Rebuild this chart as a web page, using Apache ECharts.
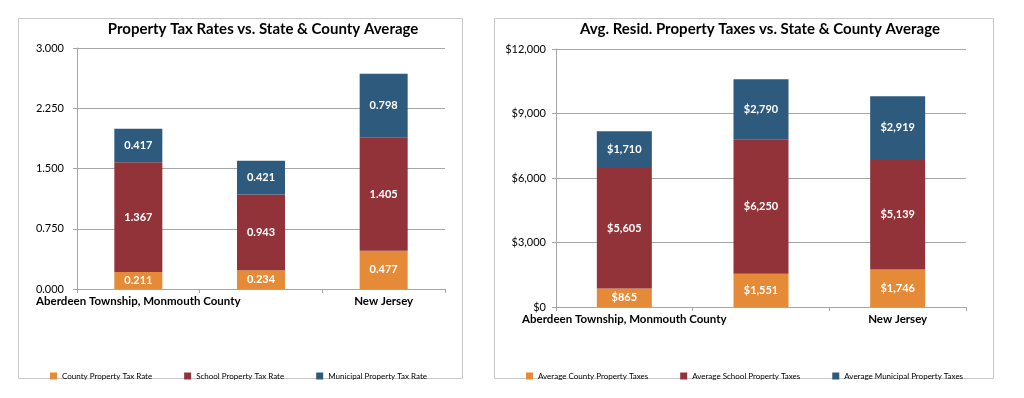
<!DOCTYPE html>
<html><head><meta charset="utf-8">
<script src="https://cdn.jsdelivr.net/npm/echarts@6/dist/echarts.min.js"></script>
<style>html,body{margin:0;padding:0;background:#fff}#c{width:1024px;height:398px}</style>
</head><body><div id="c"></div>
<script>
const categories = ["Aberdeen Township, Monmouth County", "Monmouth County", "New Jersey"];
const rateCounty = [0.211, 0.234, 0.477];
const rateSchool = [1.367, 0.943, 1.405];
const rateMunicipal = [0.417, 0.421, 0.798];
const taxCounty = [865, 1551, 1746];
const taxSchool = [5605, 6250, 5139];
const taxMunicipal = [1710, 2790, 2919];
const rateNames = ["County Property Tax Rate", "School Property Tax Rate", "Municipal Property Tax Rate"];
const taxNames = ["Average County Property Taxes", "Average School Property Taxes", "Average Municipal Property Taxes"];
const titles = ["Property Tax Rates vs. State & County Average", "Avg. Resid. Property Taxes vs. State & County Average"];

const colors = ["#E58A37", "#913339", "#2D5A7D"];
const FONT = "Lato, 'Open Sans', sans-serif";
const money = v => "$" + Math.round(v).toLocaleString("en-US");
const rate = v => Number(v).toFixed(3);

const chart = echarts.init(document.getElementById("c"), null, {renderer: "canvas"});
function mkSeries(names, arrays, axisIdx, fmt, bw) {
  return names.map((n, i) => ({
    name: n, type: "bar", stack: "s" + axisIdx, xAxisIndex: axisIdx, yAxisIndex: axisIdx,
    barWidth: bw, data: arrays[i], itemStyle: {color: colors[i]},
    label: {show: true, position: "inside", color: "#fff", fontWeight: "bold", fontSize: 11, fontFamily: FONT,
      formatter: p => fmt(p.value)}
  }));
}
const axisGray = "#A6A6A6";
function xAx(idx) {
  return {type: "category", gridIndex: idx, data: categories,
    axisLine: {lineStyle: {color: axisGray}}, axisTick: {show: true, length: 4, alignWithLabel: false, lineStyle: {color: axisGray}},
    axisLabel: {interval: 0, formatter: (v, i) => i === 1 ? "" : v, color: "#000", fontWeight: "bold", fontSize: 11.5, fontFamily: FONT, margin: 6}};
}
function yAx(idx, max, interval, fmt) {
  return {type: "value", gridIndex: idx, min: 0, max: max, interval: interval,
    axisLine: {show: true, lineStyle: {color: axisGray}}, axisTick: {show: true, length: 4, lineStyle: {color: axisGray}},
    splitLine: {lineStyle: {color: axisGray}},
    axisLabel: {formatter: fmt, color: "#000", fontSize: 11, fontFamily: FONT, margin: idx === 0 ? 13 : 10}};
}
function legend(names, left) {
  return {data: names, left: left, top: 367, icon: "rect", itemWidth: 7, itemHeight: 7, itemGap: 32,
    textStyle: {fontSize: 8, color: "#000", fontFamily: FONT}, selectedMode: false};
}
chart.setOption({
  animation: false,
  title: [
    {text: titles[0], left: 258, top: 17, textAlign: "center", textStyle: {fontSize: 15, fontWeight: "bold", color: "#000", fontFamily: FONT}},
    {text: titles[1], left: 755, top: 17, textAlign: "center", textStyle: {fontSize: 15, fontWeight: "bold", color: "#000", fontFamily: FONT}}
  ],
  graphic: [
    {type: "rect", shape: {x: 18.5, y: 18.5, width: 444, height: 360}, style: {fill: "none", stroke: "#C8C8C8", lineWidth: 1}},
    {type: "rect", shape: {x: 494.5, y: 18.5, width: 499, height: 360}, style: {fill: "none", stroke: "#C8C8C8", lineWidth: 1}}
  ],
  legend: [legend(rateNames, 45), legend(taxNames, 521)],
  grid: [
    {left: 77, right: 579, top: 48, bottom: 109},
    {left: 556, right: 58, top: 49, bottom: 91}
  ],
  xAxis: [xAx(0), xAx(1)],
  yAxis: [yAx(0, 3, 0.75, v => rate(v)), yAx(1, 12000, 3000, v => money(v))],
  series: [...mkSeries(rateNames, [rateCounty, rateSchool, rateMunicipal], 0, rate, 48),
           ...mkSeries(taxNames, [taxCounty, taxSchool, taxMunicipal], 1, money, 55)]
});
</script></body></html>
